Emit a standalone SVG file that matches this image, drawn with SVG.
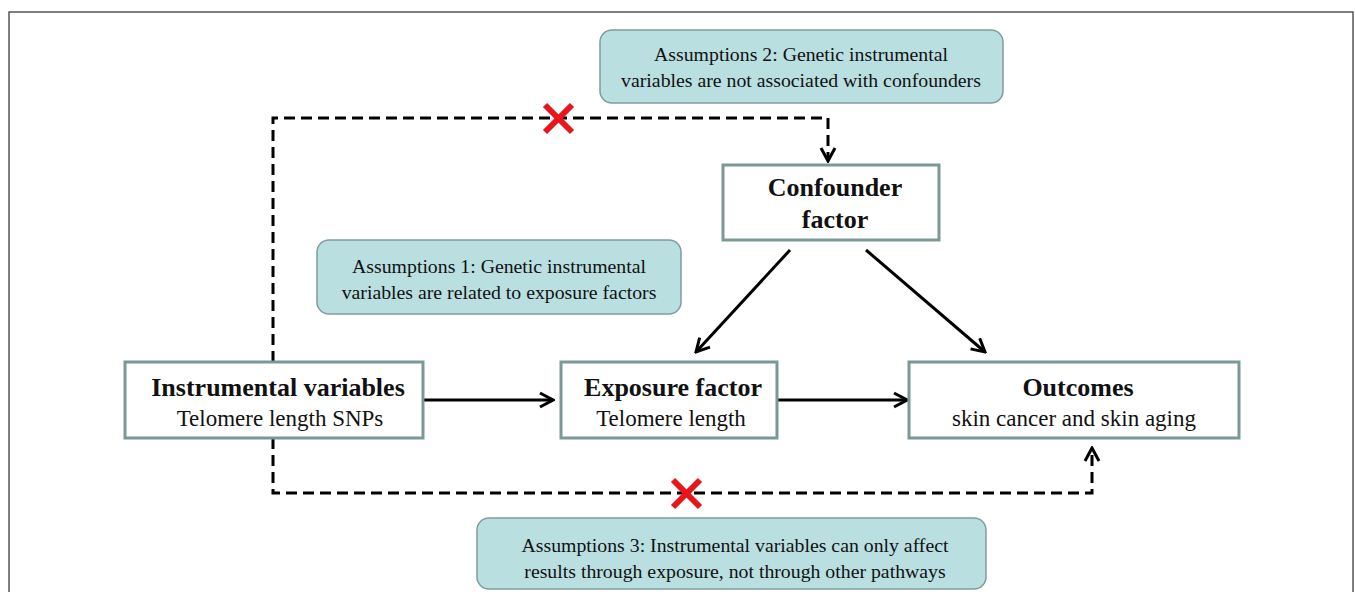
<svg xmlns="http://www.w3.org/2000/svg" width="1355" height="592" viewBox="0 0 1355 592">
<style>
.node{fill:#fff;stroke:#7d9797;stroke-width:3}
.note{fill:#b9dfe1;stroke:#7f9c9d;stroke-width:1.5}
.t{font-family:"Liberation Serif","Times New Roman",serif;fill:#111;text-anchor:middle}
.b{font-weight:bold;font-size:26px}
.s{font-size:23px}
.n{font-size:19.8px}
.solid{stroke:#000;stroke-width:3;fill:none}
.dash{stroke:#000;stroke-width:3;fill:none;stroke-dasharray:11 6}
.x{stroke:#e8151b;stroke-width:6;stroke-linecap:butt}
</style>
<defs>
<marker id="ah" viewBox="0 0 18 18" refX="16" refY="9" markerWidth="18" markerHeight="18" markerUnits="userSpaceOnUse" orient="auto">
<polyline points="3,2 16,9 3,16" fill="none" stroke="#000" stroke-width="3"/>
</marker>
</defs>
<rect x="9" y="12" width="1344" height="590" fill="none" stroke="#555" stroke-width="1.5"/>
<g id="connectors">
<line class="solid" x1="423" y1="400" x2="553" y2="400" marker-end="url(#ah)"/>
<line class="solid" x1="777" y1="400" x2="907" y2="400" marker-end="url(#ah)"/>
<line class="solid" x1="790" y1="250" x2="696" y2="352" marker-end="url(#ah)"/>
<line class="solid" x1="866" y1="250" x2="985" y2="352" marker-end="url(#ah)"/>
<polyline class="dash" points="273,362 273,118 828,118 828,161" marker-end="url(#ah)"/>
<polyline class="dash" points="273,438 273,493 1092,493 1092,448" marker-end="url(#ah)"/>
<g id="cross1"><line class="x" x1="545" y1="105" x2="572" y2="132"/><line class="x" x1="572" y1="105" x2="545" y2="132"/></g>
<g id="cross2"><line class="x" x1="673" y1="480" x2="700" y2="507"/><line class="x" x1="700" y1="480" x2="673" y2="507"/></g>
</g>
<g id="assumption2">
<rect class="note" x="600" y="30" width="403" height="73" rx="12"/>
<text class="t n" x="801" y="61">Assumptions 2: Genetic instrumental</text>
<text class="t n" x="801" y="87">variables are not associated with confounders</text>
</g>
<g id="confounder">
<rect class="node" x="723" y="165" width="216" height="75"/>
<text class="t b" x="835" y="196">Confounder</text>
<text class="t b" x="835" y="228">factor</text>
</g>
<g id="assumption1">
<rect class="note" x="317" y="240" width="364" height="74" rx="12"/>
<text class="t n" x="499" y="273">Assumptions 1: Genetic instrumental</text>
<text class="t n" x="499" y="299">variables are related to exposure factors</text>
</g>
<g id="instrumental">
<rect class="node" x="125" y="362" width="298" height="76"/>
<text class="t b" x="278" y="396">Instrumental variables</text>
<text class="t s" x="280" y="426">Telomere length SNPs</text>
</g>
<g id="exposure">
<rect class="node" x="561" y="362" width="216" height="76"/>
<text class="t b" x="673" y="396">Exposure factor</text>
<text class="t s" x="671" y="426">Telomere length</text>
</g>
<g id="outcomes">
<rect class="node" x="909" y="362" width="330" height="76"/>
<text class="t b" x="1078" y="396">Outcomes</text>
<text class="t s" x="1074" y="426">skin cancer and skin aging</text>
</g>
<g id="assumption3">
<rect class="note" x="477" y="518" width="509" height="71" rx="12"/>
<text class="t n" x="735" y="552">Assumptions 3: Instrumental variables can only affect</text>
<text class="t n" x="735" y="578">results through exposure, not through other pathways</text>
</g>
</svg>
